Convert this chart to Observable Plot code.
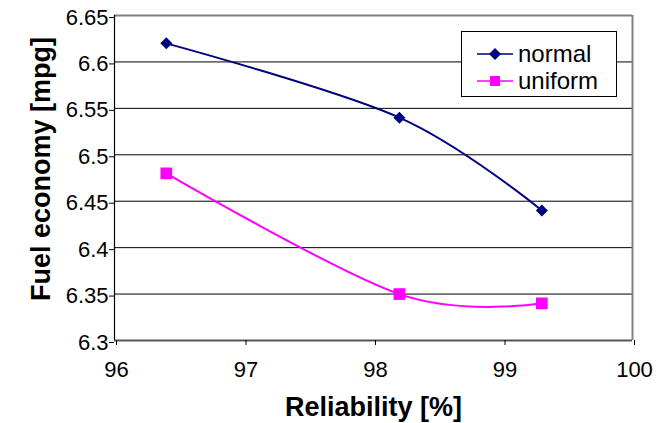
<!DOCTYPE html>
<html>
<head>
<meta charset="utf-8">
<script src="https://cdn.jsdelivr.net/npm/d3@7"></script>
<script src="https://cdn.jsdelivr.net/npm/@observablehq/plot@0.6"></script>
<style>
  html, body { margin: 0; padding: 0; background: #fff; }
  #wrap { position: relative; width: 671px; height: 423px; font-family: "Liberation Sans", Arial, sans-serif; }
  #legend { position: absolute; left: 461px; top: 31px; width: 154px; height: 64px; border: 1.5px solid #000; background: #fff; }
  .row { position: absolute; left: 0; height: 26px; display: flex; align-items: center; font-size: 24px; color: #000; }
  .row svg { margin-left: 15px; margin-right: 5px; }
</style>
</head>
<body>
<div id="wrap"><div id="legend"></div></div>
<script>
const reliability = [96.4, 98.2, 99.3];
const normalValues = [6.62, 6.54, 6.44];
const uniformValues = [6.48, 6.35, 6.34];
const xTicks = [96, 97, 98, 99, 100];
const yTicks = [6.3, 6.35, 6.4, 6.45, 6.5, 6.55, 6.6, 6.65];
const seriesNames = ["normal", "uniform"];
const seriesColors = ["#000080", "#FF00FF"];

const normal = reliability.map((x, i) => ({x, y: normalValues[i]}));
const uniform = reliability.map((x, i) => ({x, y: uniformValues[i]}));

const chart = Plot.plot({
  width: 671,
  height: 423,
  marginLeft: 114,
  marginRight: 39,
  marginTop: 15,
  marginBottom: 83,
  style: {fontFamily: "'Liberation Sans', Arial, sans-serif", color: "#000", background: "transparent", overflow: "visible"},
  x: {domain: [96, 100]},
  y: {domain: [6.3, 6.65]},
  marks: [
    Plot.gridY(yTicks.slice(1, -1), {stroke: "#000", strokeOpacity: 1, strokeWidth: 1}),
    Plot.ruleY([6.65], {stroke: "#808080", strokeWidth: 2}),
    Plot.ruleX([100], {stroke: "#808080", strokeWidth: 2}),
    Plot.ruleY([6.3], {stroke: "#555", strokeWidth: 2}),
    Plot.ruleX([96], {stroke: "#000", strokeWidth: 1.2}),
    Plot.axisX({ticks: xTicks, tickSize: 5, tickPadding: 16, fontSize: 22, label: null, tickFormat: d => String(d), stroke: "#000", dx: 2}),
    Plot.axisY({ticks: yTicks, tickSize: 5, tickPadding: 1, fontSize: 22, label: null, dy: 2, tickFormat: d => String(+d.toFixed(2)), stroke: "#000"}),
    Plot.line(normal, {x: "x", y: "y", stroke: seriesColors[0], strokeWidth: 2, curve: "cardinal"}),
    Plot.line(uniform, {x: "x", y: "y", stroke: seriesColors[1], strokeWidth: 2, curve: "cardinal"}),
    Plot.dot(normal, {x: "x", y: "y", symbol: "diamond2", r: 5.4, fill: seriesColors[0], stroke: "none"}),
    Plot.dot(uniform, {x: "x", y: "y", symbol: "square", r: 6.6, fill: seriesColors[1], stroke: "none"}),
    Plot.text(["Reliability [%]"], {frameAnchor: "bottom", textAnchor: "middle", lineAnchor: "middle", text: d => d, dy: 67, fontSize: 27, fontWeight: "bold", fill: "#000"}),
    Plot.text(["Fuel economy [mpg]"], {frameAnchor: "left", textAnchor: "middle", lineAnchor: "middle", text: d => d, dx: -73, dy: -9, rotate: -90, fontSize: 27, fontWeight: "bold", fill: "#000"})
  ]
});
const wrap = document.getElementById("wrap");
wrap.insertBefore(chart, wrap.firstChild);

const legend = document.getElementById("legend");
seriesNames.forEach((name, i) => {
  const row = document.createElement("div");
  row.className = "row";
  row.style.top = (i === 0 ? 9 : 36) + "px";
  const marker = i === 0
    ? `<path d="M18,7 L24,13 L18,19 L12,13 Z" fill="${seriesColors[i]}"/>`
    : `<rect x="13" y="8" width="10" height="10" fill="${seriesColors[i]}"/>`;
  row.innerHTML = `<svg width="36" height="26"><line x1="0" x2="36" y1="13" y2="13" stroke="${seriesColors[i]}" stroke-width="1.5"/>${marker}</svg><span>${name}</span>`;
  legend.appendChild(row);
});
</script>
</body>
</html>
